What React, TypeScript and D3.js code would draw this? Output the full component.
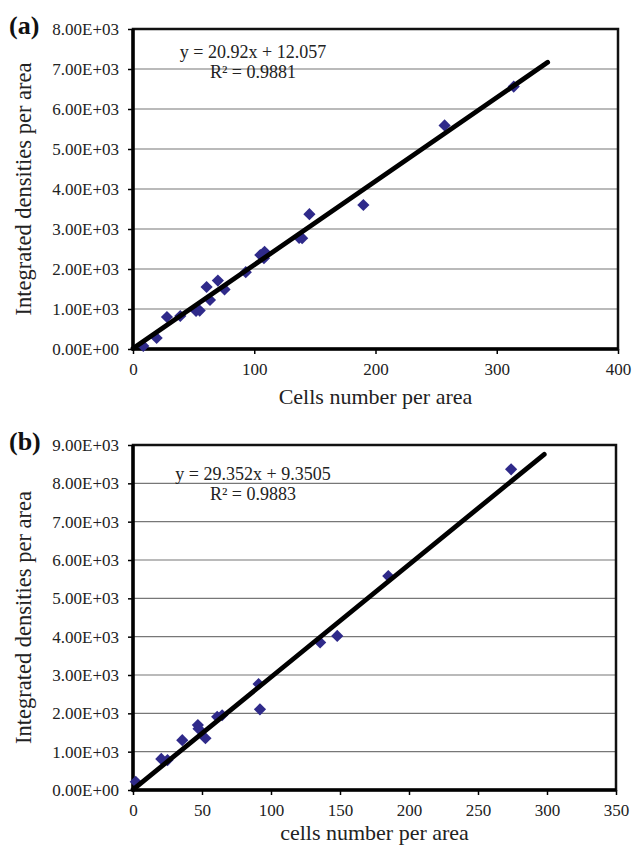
import React from 'react';
import * as d3 from 'd3';

// panel (a)
const cellsA = [8.5, 19.5, 28, 39, 52, 55, 60.7, 63.5, 70, 75.5, 93, 105, 108.5, 108, 137, 139.5, 145.5, 190, 257, 314];
const densA = [75, 275, 800, 825, 950, 960, 1550, 1225, 1710, 1490, 1920, 2350, 2430, 2270, 2780, 2770, 3370, 3600, 5590, 6560];
const fitA = { slope: 20.92, icept: 12.057, xEnd: 342 };
const xTicksA = [0, 100, 200, 300, 400];
const yTicksA = [0, 1000, 2000, 3000, 4000, 5000, 6000, 7000, 8000];

// panel (b)
const cellsB = [2, 20.5, 25, 35.7, 47, 47.5, 52.5, 61, 64.6, 91, 92, 135.6, 148, 185, 274];
const densB = [215, 810, 780, 1300, 1695, 1600, 1350, 1910, 1950, 2765, 2105, 3850, 4020, 5580, 8365];
const fitB = { slope: 29.352, icept: 9.3505, xEnd: 298 };
const xTicksB = [0, 50, 100, 150, 200, 250, 300, 350];
const yTicksB = [0, 1000, 2000, 3000, 4000, 5000, 6000, 7000, 8000, 9000];

const FONT = '"Liberation Serif", "Times New Roman", serif';

function fmtE(v) {
  return v === 0 ? '0.00E+00' : (v / 1000).toFixed(2) + 'E+03';
}

function drawPanel(svg, opt) {
  const { top, bottom, left, right, xs, ys, fit, xTicks, yTicks, label, xTitle, titleGap, eq, r2, eqY } = opt;
  const g = svg.append('g');
  const x = d3.scaleLinear().domain([xTicks[0], xTicks[xTicks.length - 1]]).range([left, right]);
  const y = d3.scaleLinear().domain([yTicks[0], yTicks[yTicks.length - 1]]).range([bottom, top]);

  // grid
  g.selectAll('.grid').data(yTicks.slice(1, -1)).enter().append('line')
    .attr('x1', left).attr('x2', right)
    .attr('y1', d => y(d)).attr('y2', d => y(d))
    .attr('stroke', '#777').attr('stroke-width', 1.1);

  // y axis
  const yAxis = g.append('g').attr('transform', `translate(${left},0)`)
    .call(d3.axisLeft(y).tickValues(yTicks).tickFormat(fmtE).tickSize(5).tickPadding(9));
  yAxis.select('.domain').remove();
  yAxis.selectAll('line').attr('stroke', '#000').attr('stroke-width', 1.5);
  yAxis.selectAll('text').attr('font-family', FONT).attr('font-size', 17).attr('fill', '#222');

  // x axis
  const xAxis = g.append('g').attr('transform', `translate(0,${bottom})`)
    .call(d3.axisBottom(x).tickValues(xTicks).tickFormat(d3.format('d')).tickSize(5).tickPadding(9));
  xAxis.select('.domain').remove();
  xAxis.selectAll('line').attr('stroke', '#000').attr('stroke-width', 1.5);
  xAxis.selectAll('text').attr('font-family', FONT).attr('font-size', 17).attr('fill', '#222');

  // frame
  g.append('rect').attr('x', left).attr('y', top).attr('width', right - left).attr('height', bottom - top)
    .attr('fill', 'none').attr('stroke', '#111').attr('stroke-width', 2.5);
  g.append('line').attr('x1', left).attr('x2', left).attr('y1', top).attr('y2', bottom)
    .attr('stroke', '#000').attr('stroke-width', 3.5);
  g.append('line').attr('x1', left).attr('x2', right).attr('y1', bottom).attr('y2', bottom)
    .attr('stroke', '#000').attr('stroke-width', 3.5);

  // points
  const pts = xs.map((v, i) => [v, ys[i]]);
  g.selectAll('.pt').data(pts).enter().append('path')
    .attr('d', d3.symbol().type(d3.symbolDiamond2).size(95))
    .attr('transform', d => `translate(${x(d[0])},${y(d[1])})`)
    .attr('fill', '#2f2a8a');

  // fit line
  g.append('line')
    .attr('x1', x(0)).attr('y1', y(fit.icept))
    .attr('x2', x(fit.xEnd)).attr('y2', y(fit.slope * fit.xEnd + fit.icept))
    .attr('stroke', '#000').attr('stroke-width', 4.8).attr('stroke-linecap', 'round');

  // equation
  g.append('text').attr('x', 253).attr('y', eqY).attr('text-anchor', 'middle')
    .attr('font-family', FONT).attr('font-size', 18).attr('fill', '#222').text(eq);
  g.append('text').attr('x', 253).attr('y', eqY + 20).attr('text-anchor', 'middle')
    .attr('font-family', FONT).attr('font-size', 18).attr('fill', '#222').text(r2);

  // titles
  g.append('text').attr('x', (left + right) / 2).attr('y', bottom + titleGap).attr('text-anchor', 'middle')
    .attr('font-family', FONT).attr('font-size', 22).attr('fill', '#222').text(xTitle);
  g.append('text')
    .attr('transform', `translate(31,${(top + bottom) / 2}) rotate(-90)`)
    .attr('text-anchor', 'middle')
    .attr('font-family', FONT).attr('font-size', 22.5).attr('fill', '#222').text('Integrated densities per area');
  g.append('text').attr('x', 9).attr('y', top + 5)
    .attr('font-family', FONT).attr('font-size', 26).attr('font-weight', 'bold').attr('fill', '#111').text(label);
}

export default function App() {
  const ref = React.useRef(null);

  React.useEffect(() => {
    const svg = d3.select(ref.current);
    svg.selectAll('*').remove();
    drawPanel(svg, {
      top: 29, bottom: 349, left: 133, right: 618,
      xs: cellsA, ys: densA, fit: fitA, xTicks: xTicksA, yTicks: yTicksA,
      label: '(a)', xTitle: 'Cells number per area', titleGap: 55,
      eq: 'y = 20.92x + 12.057', r2: 'R² = 0.9881', eqY: 58,
    });
    drawPanel(svg, {
      top: 445, bottom: 790, left: 133, right: 616,
      xs: cellsB, ys: densB, fit: fitB, xTicks: xTicksB, yTicks: yTicksB,
      label: '(b)', xTitle: 'cells number per area', titleGap: 50,
      eq: 'y = 29.352x + 9.3505', r2: 'R² = 0.9883', eqY: 480,
    });
  }, []);

  return (
    <svg ref={ref} width={632} height={848}
      style={{ position: 'absolute', left: 0, top: 0, background: '#fff' }} />
  );
}
